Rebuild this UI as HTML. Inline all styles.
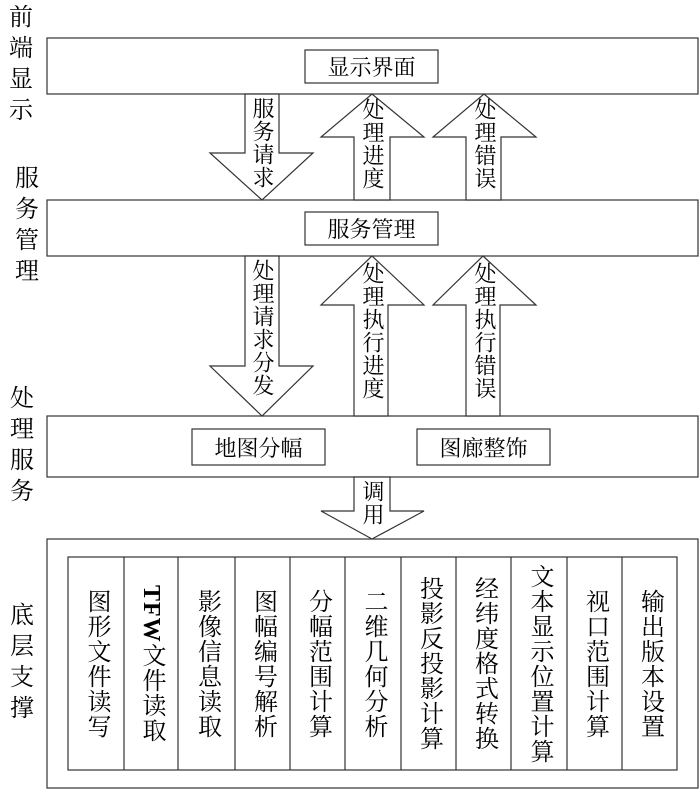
<!DOCTYPE html>
<html><head><meta charset="utf-8"><style>
body{margin:0;background:#fff;}
#c{position:relative;width:700px;height:791px;overflow:hidden;font-family:"Liberation Serif","Noto Serif CJK SC",serif;color:#000;}
.v{position:absolute;writing-mode:vertical-rl;font-size:22px;line-height:24px;letter-spacing:1px;}
.lab{position:absolute;font-size:24px;width:26px;line-height:31px;text-align:center;}
.box{position:absolute;font-size:22px;display:flex;align-items:center;justify-content:center;}
.col{position:absolute;top:557px;height:213px;display:flex;align-items:center;justify-content:center;writing-mode:vertical-rl;font-size:24px;line-height:26px;letter-spacing:1px;}
</style></head><body><div id="c">
<svg width="700" height="791" style="position:absolute;left:0;top:0" fill="#fff" stroke="#333" stroke-width="1.2">
<rect x="47" y="38" width="651" height="56"/>
<rect x="305" y="50" width="133" height="33"/>
<rect x="47" y="200" width="651" height="56"/>
<rect x="305" y="212" width="133" height="33"/>
<rect x="47" y="416" width="651" height="61"/>
<rect x="192" y="429" width="133" height="36"/>
<rect x="417" y="429" width="133" height="36"/>
<rect x="47" y="539" width="651" height="249"/>
<rect x="68" y="557" width="609" height="213"/>
<g stroke="#333">
<line x1="124" y1="557" x2="124" y2="770"/><line x1="178" y1="557" x2="178" y2="770"/>
<line x1="235" y1="557" x2="235" y2="770"/><line x1="290" y1="557" x2="290" y2="770"/>
<line x1="345" y1="557" x2="345" y2="770"/><line x1="401" y1="557" x2="401" y2="770"/>
<line x1="456" y1="557" x2="456" y2="770"/><line x1="511" y1="557" x2="511" y2="770"/>
<line x1="567" y1="557" x2="567" y2="770"/><line x1="622" y1="557" x2="622" y2="770"/>
</g>
<polygon points="245,94 279,94 279,153 313,153 262,200 210,153 245,153"/>
<polygon points="354,200 390,200 390,137 424,137 372,94 321,137 354,137"/>
<polygon points="466,200 501,200 501,137 536,137 484,94 433,137 466,137"/>
<polygon points="245,256 279,256 279,366 313,366 262,416 210,366 245,366"/>
<polygon points="354,416 388,416 388,305 424,305 372,256 321,305 354,305"/>
<polygon points="466,416 500,416 500,305 536,305 483,256 433,305 466,305"/>
<polygon points="354,477 390,477 390,511 424,511 372,539 321,511 354,511"/>
</svg>
<div class="lab" style="left:8px;top:3px">前端显示</div>
<div class="lab" style="left:14px;top:164px">服务管理</div>
<div class="lab" style="left:9px;top:384px">处理服务</div>
<div class="lab" style="left:9px;top:601px">底层支撑</div>
<div class="box" style="left:305px;top:50px;width:133px;height:33px">显示界面</div>
<div class="box" style="left:305px;top:212px;width:133px;height:33px">服务管理</div>
<div class="box" style="left:192px;top:429px;width:133px;height:36px">地图分幅</div>
<div class="box" style="left:417px;top:429px;width:133px;height:36px">图廊整饰</div>
<div class="v" style="left:250px;top:97px">服务请求</div>
<div class="v" style="left:360px;top:98px">处理进度</div>
<div class="v" style="left:472px;top:98px">处理错误</div>
<div class="v" style="left:250px;top:259px">处理请求分发</div>
<div class="v" style="left:360px;top:262px">处理执行进度</div>
<div class="v" style="left:472px;top:262px">处理执行错误</div>
<div class="v" style="left:360px;top:480px">调用</div>
<div class="col" style="left:68px;width:56px">图形文件读写</div>
<div class="col" style="left:124px;width:54px"><span><b style="font-family:'Liberation Serif',serif">TFW</b>文件读取</span></div>
<div class="col" style="left:178px;width:57px">影像信息读取</div>
<div class="col" style="left:235px;width:55px">图幅编号解析</div>
<div class="col" style="left:290px;width:55px">分幅范围计算</div>
<div class="col" style="left:345px;width:56px">二维几何分析</div>
<div class="col" style="left:401px;width:55px">投影反投影计算</div>
<div class="col" style="left:456px;width:55px">经纬度格式转换</div>
<div class="col" style="left:511px;width:56px">文本显示位置计算</div>
<div class="col" style="left:567px;width:55px">视口范围计算</div>
<div class="col" style="left:622px;width:55px">输出版本设置</div>
</div></body></html>
